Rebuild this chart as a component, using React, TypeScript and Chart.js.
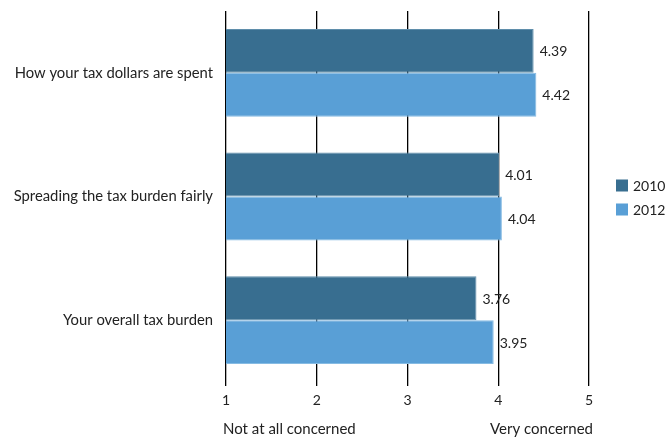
import React, { useEffect, useRef } from "react";
import { Chart, registerables } from "chart.js";

Chart.register(...registerables);

const categories = [
  "How your tax dollars are spent",
  "Spreading the tax burden fairly",
  "Your overall tax burden",
];
const seriesNames = ["2010", "2012"];
const values2010 = [4.39, 4.01, 3.76];
const values2012 = [4.42, 4.04, 3.95];
const xTicks = ["1", "2", "3", "4", "5"];
const axisLowLabel = "Not at all concerned";
const axisHighLabel = "Very concerned";

const FONT = "Lato, 'DejaVu Sans', sans-serif";

export default function App() {
  const ref = useRef<HTMLCanvasElement | null>(null);

  useEffect(() => {
    document.body.style.margin = "0";
    if (!ref.current) return;

    const extras = {
      id: "extras",
      afterDatasetsDraw(chart: any) {
        const ctx = chart.ctx;
        ctx.save();
        ctx.font = `14px ${FONT}`;
        ctx.fillStyle = "#222";
        ctx.textBaseline = "middle";
        ctx.textAlign = "left";
        chart.data.datasets.forEach((ds: any, i: number) => {
          const meta = chart.getDatasetMeta(i);
          meta.data.forEach((bar: any, j: number) => {
            const v = ds.data[j] as number;
            ctx.fillText(v.toFixed(2), bar.x + 6, bar.y + 1);
          });
        });
        // legend
        const area = chart.chartArea;
        const cy = (area.top + area.bottom) / 2;
        chart.data.datasets.forEach((ds: any, i: number) => {
          const y = cy - 11 + i * 24;
          ctx.fillStyle = ds.backgroundColor;
          ctx.fillRect(616, y - 6, 12, 12);
          ctx.fillStyle = "#222";
          ctx.fillText(ds.label, 633, y + 1);
        });
        // axis titles
        const xs = chart.scales.x;
        ctx.font = `15px ${FONT}`;
        ctx.fillStyle = "#222";
        ctx.textAlign = "left";
        ctx.fillText(axisLowLabel, xs.getPixelForValue(1) - 3, 429);
        ctx.textAlign = "right";
        ctx.fillText(axisHighLabel, xs.getPixelForValue(5) + 4, 429);
        ctx.restore();
      },
    };

    const chart = new Chart(ref.current, {
      type: "bar",
      data: {
        labels: categories,
        datasets: [
          {
            label: seriesNames[0],
            data: values2010,
            backgroundColor: "#386e90",
            borderColor: "#5f8eab",
            borderWidth: 1,
            categoryPercentage: 0.71,
            barPercentage: 1,
          },
          {
            label: seriesNames[1],
            data: values2012,
            backgroundColor: "#599fd6",
            borderColor: "#86bbe3",
            borderWidth: 1,
            categoryPercentage: 0.71,
            barPercentage: 1,
          },
        ],
      },
      options: {
        indexAxis: "y",
        animation: false,
        responsive: false,
        maintainAspectRatio: false,
        layout: { padding: { top: 11, right: 81, left: 0, bottom: 0 } },
        plugins: {
          legend: { display: false },
          tooltip: { enabled: false },
        },
        scales: {
          x: {
            min: 1,
            max: 5,
            ticks: {
              stepSize: 1,
              color: "#222",
              font: { family: FONT, size: 14 },
              padding: 6,
              callback: (_v: any, i: number) => xTicks[i],
            },
            grid: {
              color: "#000",
              lineWidth: 1.3,
              drawTicks: true,
              tickLength: 4,
            },
            border: { display: false },
            afterFit: (s: any) => {
              s.height = 55;
              s.paddingLeft = 0;
              s.paddingRight = 0;
            },
          },
          y: {
            ticks: {
              color: "#222",
              font: { family: FONT, size: 14.8 },
              padding: 13,
            },
            grid: { display: false, drawTicks: false },
            border: { display: false },
            afterFit: (s: any) => {
              s.width = 226;
              s.paddingTop = 0;
              s.paddingBottom = 0;
            },
          },
        },
      },
      plugins: [extras],
    });
    return () => chart.destroy();
  }, []);

  return (
    <div style={{ width: 670, height: 437 }}>
      <canvas ref={ref} width={670} height={437} style={{ width: 670, height: 437 }} />
    </div>
  );
}
